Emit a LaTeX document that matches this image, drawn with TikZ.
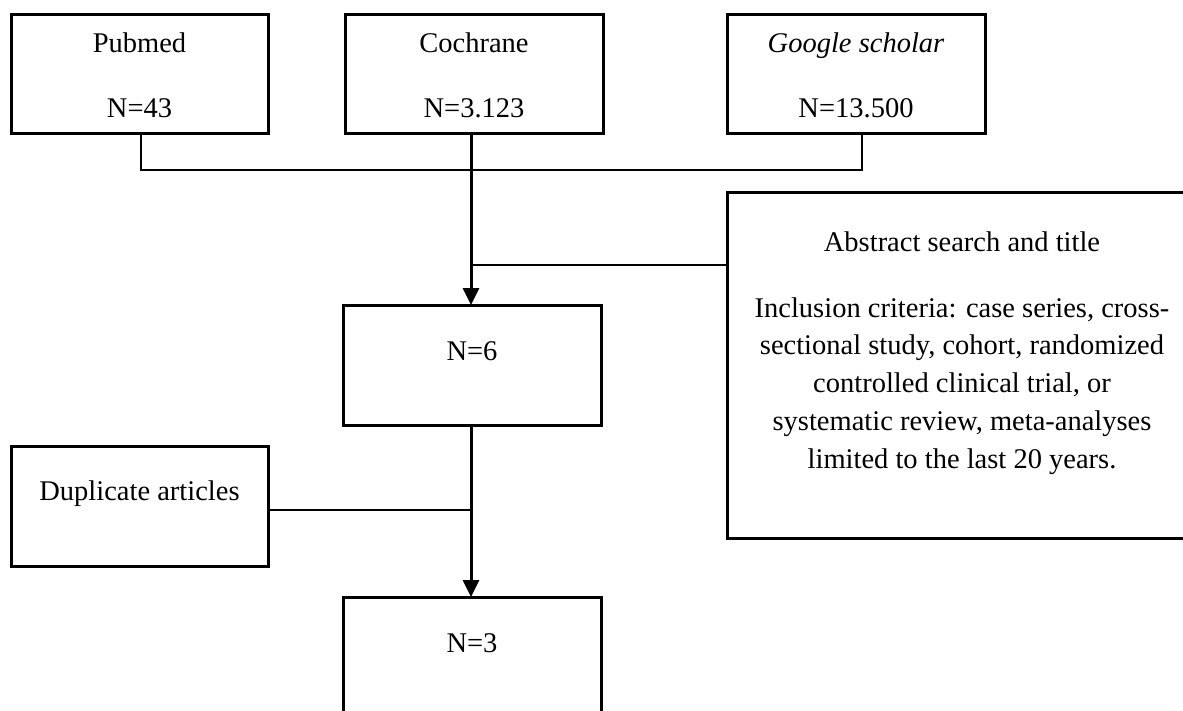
\documentclass[tikz,border=0pt]{standalone}
\usepackage{fontspec}
\setmainfont{Liberation Serif}
\usetikzlibrary{arrows.meta}
\tikzset{
  boxnode/.style={draw=black, line width=3pt, fill=white, inner sep=0pt, outer sep=0pt, minimum width=257pt, minimum height=119pt},
  txt/.style={anchor=base, inner sep=0pt, font=\fontsize{28.5}{34}\selectfont},
  thinline/.style={draw=black, line width=1.1pt},
  flowarrow/.style={draw=black, line width=3pt, -{Triangle[length=17pt,width=16pt]}}
}
\begin{document}
\begin{tikzpicture}[x=1pt,y=-1pt]
\useasboundingbox (0,0) rectangle (1183,710);
\fill[white] (0,0) rectangle (1183,710);
\clip (0,0) rectangle (1183,710);
% boxes
\node[boxnode] (pub) at (139.5,73.5) {};
\node[boxnode, minimum width=258pt] (coch) at (474,73.5) {};
\node[boxnode, minimum width=258pt] (goo) at (856,73.5) {};
\node[boxnode, minimum width=470pt, minimum height=346pt] (abs) at (962,365) {};
\node[boxnode, minimum width=258pt, minimum height=120pt] (n6) at (472,365) {};
\node[boxnode, minimum height=120pt] (dup) at (139.5,506) {};
\node[boxnode, minimum width=258pt, minimum height=160pt] (n3) at (472,677) {};
% texts
\node[txt] (pubt) at (139.5,52) {Pubmed};
\node[txt] (pubn) at (139.5,117) {N=43};
\node[txt] (cocht) at (474,52) {Cochrane};
\node[txt] (cochn) at (474,117) {N=3.123};
\node[txt] (goot) at (856,52) {\itshape Google scholar};
\node[txt] (goon) at (856,117) {N=13.500};
\node[txt] (abs1) at (962,251) {Abstract search and title};
\node[txt] (abs2) at (962,317) {Inclusion criteria: case series, cross-};
\node[txt] (abs3) at (962,354) {sectional study, cohort, randomized};
\node[txt] (abs4) at (962,392) {controlled clinical trial, or};
\node[txt] (abs5) at (962,430) {systematic review, meta-analyses};
\node[txt] (abs6) at (962,468) {limited to the last 20 years.};
\node[txt] (n6t) at (472,360) {N=6};
\node[txt] (dupt) at (139.5,500) {Duplicate articles};
\node[txt] (n3t) at (472,652) {N=3};
% junction coordinates
\coordinate (jpub) at (141,170);
\coordinate (jgoo) at (862,170);
\coordinate (gbot) at (862,133);
\coordinate (jabs) at (471,265);
\coordinate (jdup) at (471,510);
% connectors
\draw[thinline] (pub.south -| jpub) -- (jpub) -- (jgoo) -- (gbot);
\draw[flowarrow] (coch.south -| jabs) -- (n6.north -| jabs);
\draw[thinline] (abs.west |- jabs) -- (jabs);
\draw[flowarrow] (n6.south -| jdup) -- (n3.north -| jdup);
\draw[thinline] (dup.east |- jdup) -- (jdup);
\end{tikzpicture}
\end{document}
